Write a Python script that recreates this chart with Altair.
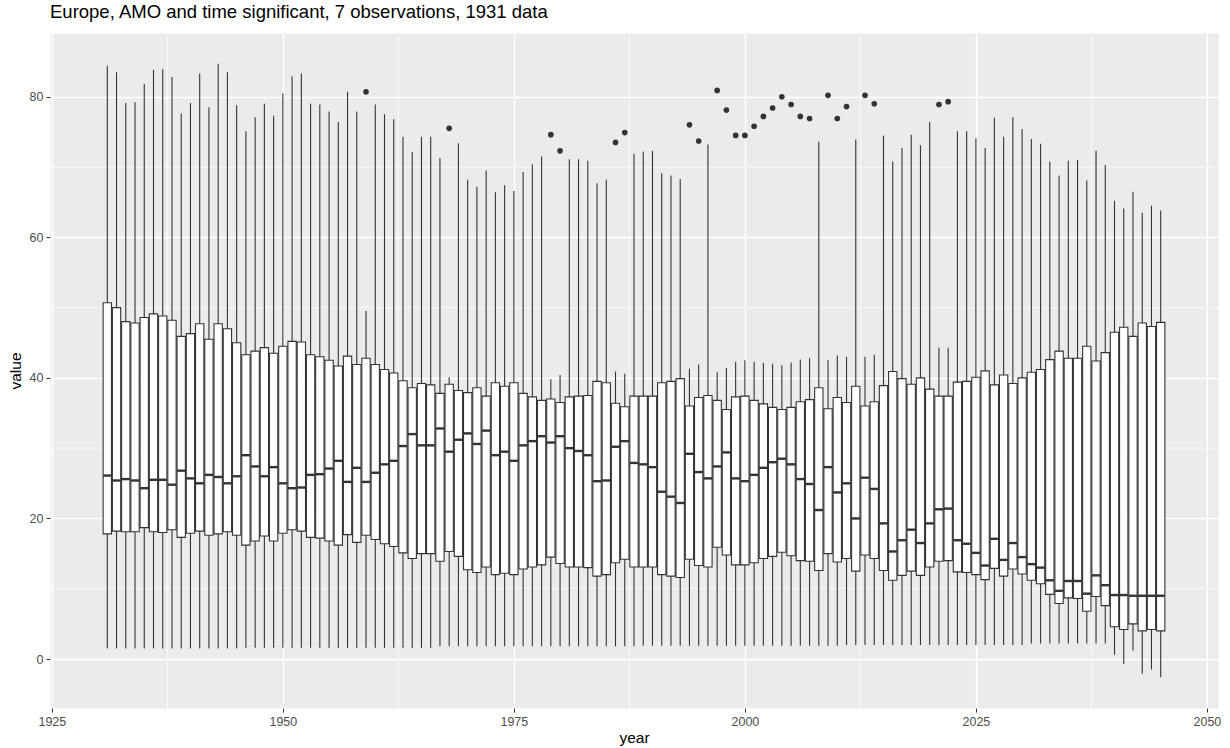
import altair as alt
import pandas as pd

years = list(range(1931, 2046))

q1 = [17.8, 18.2, 18.1, 18.1, 18.7, 18.1, 18.0, 18.4, 17.3, 17.9, 18.2, 17.6, 17.8, 18.1, 17.6,
      16.2, 16.8, 17.5, 16.8, 17.9, 18.4, 18.2, 17.3, 17.2, 16.8, 16.2, 17.7, 16.6, 17.6, 17.0,
      16.4, 16.0, 15.1, 14.3, 15.0, 15.0, 13.9, 15.3, 14.6, 12.7, 12.3, 13.1, 12.0, 12.2, 12.0,
      12.8, 13.1, 13.4, 14.5, 13.6, 13.1, 13.1, 13.0, 11.8, 12.0, 13.7, 14.2, 13.1, 13.1, 13.1,
      12.0, 11.8, 11.6, 14.2, 13.3, 13.1, 15.9, 14.8, 13.4, 13.4, 13.7, 14.3, 14.6, 15.2, 14.7,
      14.0, 13.9, 12.6, 15.0, 13.8, 14.3, 12.5, 14.8, 14.3, 12.6, 11.2, 11.9, 12.5, 11.9, 13.1,
      13.9, 14.0, 12.4, 12.3, 12.0, 11.3, 12.9, 11.8, 12.8, 12.1, 11.2, 10.7, 9.2, 7.9, 8.7,
      8.6, 6.8, 8.9, 7.6, 4.6, 4.2, 5.0, 4.0, 4.2, 4.0]

med = [26.1, 25.4, 25.6, 25.4, 24.3, 25.5, 25.5, 24.8, 26.8, 25.7, 25.0, 26.2, 25.9, 25.0, 26.0,
       29.0, 27.4, 26.0, 27.3, 25.0, 24.3, 24.4, 26.2, 26.3, 27.1, 28.2, 25.2, 27.2, 25.2, 26.5,
       27.7, 28.2, 30.3, 32.0, 30.4, 30.4, 32.8, 29.5, 31.2, 32.1, 30.6, 32.5, 29.0, 29.5, 28.2,
       30.4, 31.0, 31.7, 30.8, 31.7, 30.0, 29.6, 29.0, 25.3, 25.4, 30.2, 31.0, 27.9, 27.7, 27.3,
       23.8, 23.1, 22.2, 29.2, 26.6, 25.7, 27.4, 29.4, 25.7, 25.3, 26.2, 27.2, 28.0, 28.5, 27.7,
       25.6, 24.9, 21.2, 27.3, 23.7, 25.0, 20.0, 25.8, 24.2, 19.3, 15.3, 16.9, 18.4, 16.5, 19.3,
       21.3, 21.4, 16.9, 16.4, 15.1, 13.3, 17.1, 14.1, 16.5, 14.5, 13.5, 13.0, 11.2, 9.7, 11.1,
       11.1, 9.3, 11.9, 10.5, 9.1, 9.1, 9.0, 9.0, 9.0, 9.0]

q3 = [50.7, 50.0, 48.0, 47.8, 48.6, 49.1, 48.8, 48.2, 45.9, 46.3, 47.7, 45.5, 47.7, 47.0, 45.0,
      43.3, 43.8, 44.3, 43.5, 44.5, 45.2, 45.1, 43.3, 43.0, 42.5, 41.7, 43.1, 41.9, 42.8, 41.9,
      41.2, 40.7, 39.6, 38.6, 39.2, 39.0, 37.8, 39.1, 38.2, 37.9, 38.6, 37.4, 39.3, 38.8, 39.3,
      37.8, 37.3, 36.8, 37.0, 36.5, 37.3, 37.4, 37.5, 39.5, 39.3, 36.4, 35.9, 37.4, 37.4, 37.4,
      39.3, 39.5, 39.9, 36.0, 37.2, 37.5, 36.8, 35.5, 37.3, 37.4, 36.8, 36.3, 35.8, 35.5, 35.8,
      36.6, 36.9, 38.6, 35.6, 37.2, 36.5, 38.8, 36.0, 36.6, 38.9, 40.9, 39.9, 39.1, 40.0, 38.4,
      37.4, 37.4, 39.4, 39.5, 40.1, 41.0, 39.0, 40.4, 39.2, 40.0, 40.8, 41.2, 42.6, 43.8, 42.8,
      42.8, 44.5, 42.4, 43.6, 46.5, 47.2, 45.9, 47.8, 47.3, 47.9]

hi = [84.4, 83.5, 79.1, 79.2, 81.8, 83.8, 83.9, 82.8, 77.6, 79.1, 83.3, 78.5, 84.7, 83.5, 78.8,
      75.1, 77.1, 79.0, 77.3, 80.5, 82.9, 83.3, 79.0, 78.9, 77.9, 76.4, 80.7, 77.9, 49.5, 78.9,
      77.5, 76.8, 74.3, 72.1, 74.3, 74.3, 71.3, 40.1, 73.4, 68.2, 67.2, 69.5, 66.4, 67.4, 66.6,
      69.3, 70.4, 71.5, 39.8, 40.4, 71.1, 71.1, 70.9, 67.7, 68.2, 40.9, 40.6, 71.9, 72.2, 72.3,
      69.1, 68.8, 68.3, 41.3, 41.9, 73.2, 40.8, 41.4, 42.3, 42.5, 42.3, 42.1, 42.0, 41.8, 42.2,
      42.6, 42.8, 73.6, 42.5, 43.2, 43.0, 73.9, 43.0, 43.3, 74.5, 70.8, 72.7, 74.6, 73.1, 76.4,
      44.3, 44.3, 75.1, 75.1, 74.1, 72.7, 77.0, 74.3, 77.1, 75.4, 74.0, 73.3, 70.8, 68.8, 70.9,
      71.0, 68.1, 72.3, 70.3, 65.2, 64.1, 66.5, 63.5, 64.5, 63.8]

lo = [1.5, 1.5, 1.5, 1.5, 1.5, 1.5, 1.5, 1.5, 1.5, 1.5, 1.5, 1.5, 1.5, 1.5, 1.5,
      1.6, 1.6, 1.6, 1.6, 1.6, 1.6, 1.6, 1.6, 1.6, 1.6, 1.6, 1.6, 1.6, 1.6, 1.6,
      1.6, 1.6, 1.6, 1.6, 1.6, 1.6, 1.8, 1.8, 1.8, 1.8, 1.8, 1.8, 1.8, 1.8, 1.8,
      1.8, 1.8, 1.8, 1.8, 1.8, 1.8, 1.8, 1.8, 1.8, 1.8, 1.8, 1.8, 1.8, 1.9, 1.9,
      1.9, 1.9, 1.9, 1.9, 1.9, 1.9, 1.9, 1.9, 1.9, 1.9, 1.9, 1.9, 1.9, 1.9, 1.9,
      1.9, 1.9, 1.9, 1.9, 1.9, 2.0, 2.0, 2.0, 2.0, 2.0, 2.0, 2.0, 2.0, 2.0, 2.0,
      2.0, 2.0, 2.0, 2.0, 2.0, 2.0, 2.0, 2.0, 2.0, 2.0, 2.2, 2.2, 2.2, 2.2, 2.2,
      2.2, 2.2, 2.2, 2.2, 0.6, -0.7, 1.2, -2.1, -1.5, -2.6]

out_year = [1959, 1968, 1979, 1980, 1986, 1987, 1994, 1995, 1997, 1998, 1999, 2000, 2001,
            2002, 2003, 2004, 2005, 2006, 2007, 2009, 2010, 2011, 2013, 2014, 2021, 2022]
out_val = [80.7, 75.5, 74.6, 72.3, 73.5, 74.9, 76.0, 73.7, 80.9, 78.1, 74.5, 74.5, 75.8,
           77.2, 78.4, 80.0, 78.9, 77.2, 76.9, 80.2, 76.9, 78.6, 80.2, 79.0, 78.9, 79.3]

x_major = [1925, 1950, 1975, 2000, 2025, 2050]
x_minor = [1937.5, 1962.5, 1987.5, 2012.5, 2037.5]
y_major = [0, 20, 40, 60, 80]
y_minor = [10, 30, 50, 70]

df = pd.DataFrame({"year": years, "lo": lo, "q1": q1, "med": med, "q3": q3, "hi": hi})
odf = pd.DataFrame({"year": out_year, "value": out_val})

FONT = "Liberation Sans"
xs = alt.Scale(domain=[1924.8, 2051.2], nice=False, zero=False)
ys = alt.Scale(domain=[-6.97, 89.07], nice=False, zero=False)

xaxis = alt.Axis(values=x_major, format="d", title="year", grid=True, gridColor="white",
                 gridWidth=1.5, domain=False, tickColor="#333333", tickSize=4, tickWidth=1,
                 labelColor="#4D4D4D", labelFontSize=12.5, labelFont=FONT, labelPadding=3,
                 titleFont=FONT, titleFontSize=15.5, titleFontWeight="normal",
                 titleColor="black", titlePadding=3)
yaxis = alt.Axis(values=y_major, format="d", title="value", grid=True, gridColor="white",
                 gridWidth=1.5, domain=False, tickColor="#333333", tickSize=4, tickWidth=1,
                 labelColor="#4D4D4D", labelFontSize=12.5, labelFont=FONT, labelPadding=3,
                 titleFont=FONT, titleFontSize=15.5, titleFontWeight="normal",
                 titleColor="black", titlePadding=6)


def X(field):
    return alt.X(field, scale=xs, axis=xaxis, title="year")


def Y(field):
    return alt.Y(field, scale=ys, axis=yaxis, title="value")


minor_y = alt.Chart(pd.DataFrame({"v": y_minor})).mark_rule(
    color="white", strokeWidth=0.75).encode(y=Y("v:Q"))
minor_x = alt.Chart(pd.DataFrame({"v": x_minor})).mark_rule(
    color="white", strokeWidth=0.75).encode(x=X("v:Q"))

base = alt.Chart(df)
whisk = base.mark_rule(color="#333333", strokeWidth=1.1).encode(
    x=X("year:Q"), y=Y("lo:Q"), y2="hi:Q",
)
boxed = base.transform_calculate(x0="datum.year - 0.45", x1="datum.year + 0.45")
box = boxed.mark_rect(fill="white", stroke="#333333", strokeWidth=1.1).encode(
    x=X("x0:Q"), x2="x1:Q", y=Y("q1:Q"), y2="q3:Q",
)
median = boxed.mark_rule(color="#333333", strokeWidth=2.4).encode(
    x=X("x0:Q"), x2="x1:Q", y=Y("med:Q"),
)
outl = alt.Chart(odf).mark_circle(size=32, color="#333333", opacity=1).encode(
    x=X("year:Q"), y=Y("value:Q"),
)

chart = alt.layer(minor_y, minor_x, whisk, box, median, outl).properties(
    width=1168, height=675,
    padding={"left": 50, "top": 33, "right": 12, "bottom": 40},
    autosize=alt.AutoSizeParams(type="none"),
    background="white",
    title=alt.TitleParams("Europe, AMO and time significant, 7 observations, 1931 data",
                          anchor="start", frame="group", font=FONT, fontSize=18.5,
                          fontWeight="normal", color="black", offset=11,
                          baseline="bottom", dy=19),
).configure_view(fill="#EBEBEB", stroke="transparent")

chart.save("out.html", embed_options={"renderer": "svg", "actions": False})
